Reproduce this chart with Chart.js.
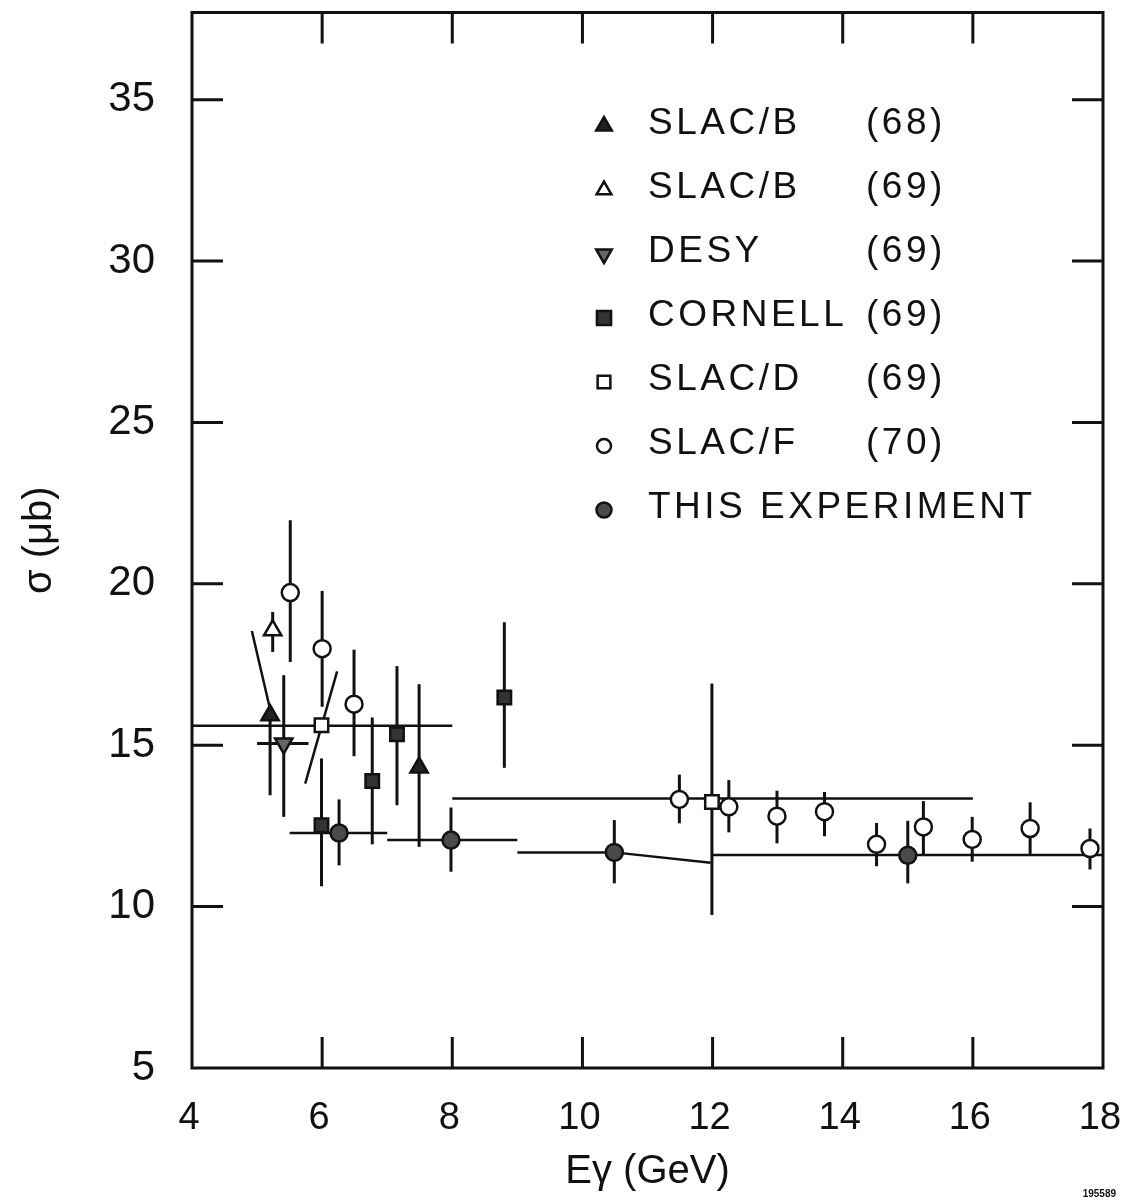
<!DOCTYPE html>
<html>
<head>
<meta charset="utf-8">
<script src="https://cdn.jsdelivr.net/npm/chart.js@4.4.1/dist/chart.umd.min.js"></script>
<style>
  html, body { margin: 0; padding: 0; background: #fff; }
  canvas { display: block; }
</style>
</head>
<body>
<canvas id="sigmaChart" width="1122" height="1204"></canvas>
<script>
// values (E in GeV, sigma in microbarn)
const slacB68X = [5.2, 7.49];
const slacB68Y = [15.93, 14.31];
const slacB68Lo = [13.45, 11.85];
const slacB68Hi = [15.93, 16.89];

const slacB69X = [5.24];
const slacB69Y = [18.56];
const slacB69Lo = [17.89];
const slacB69Hi = [19.13];

const desyX = [5.41];
const desyY = [15.05];
const desyLo = [12.78];
const desyHi = [17.17];
const desyXLo = [5.0];
const desyXHi = [5.79];

const cornellX = [5.99, 6.77, 7.15, 8.8];
const cornellY = [12.52, 13.89, 15.34, 16.48];
const cornellLo = [10.63, 11.93, 13.14, 14.3];
const cornellHi = [14.59, 15.86, 17.45, 18.81];

const slacDX = [5.99, 11.99];
const slacDY = [15.62, 13.24];
const slacDLo = [15.62, 9.74];
const slacDHi = [15.62, 16.91];

const slacFX = [5.51, 6.0, 6.49, 11.49, 12.25, 12.99, 13.72, 14.52, 15.24, 15.99, 16.88, 17.8];
const slacFY = [19.73, 17.99, 16.27, 13.32, 13.09, 12.8, 12.94, 11.93, 12.47, 12.08, 12.42, 11.8];
const slacFLo = [17.58, 16.19, 14.66, 12.58, 12.3, 11.96, 12.18, 11.25, 11.59, 11.39, 11.59, 11.15];
const slacFHi = [21.97, 19.78, 17.96, 14.09, 13.92, 13.59, 13.55, 12.59, 13.27, 12.78, 13.23, 12.42];

const thisX = [6.26, 7.98, 10.49, 15.0];
const thisY = [12.28, 12.06, 11.68, 11.59];
const thisLo = [11.28, 11.08, 10.72, 10.72];
const thisHi = [13.32, 13.07, 12.68, 12.66];

// bin lines (null = break)
const slacDBinX = [4, 8, null, 8, 16];
const slacDBinY = [15.6, 15.6, null, 13.35, 13.35];
const thisBinX = [5.5, 7.0, null, 7.0, 9.0, null, 9.0, 10.49, 11.97, null, 12.0, 18.0];
const thisBinY = [12.28, 12.28, null, 12.06, 12.06, null, 11.68, 11.68, 11.36, null, 11.6, 11.6];
const slopeX = [4.92, 5.21, null, 5.74, 6.23];
const slopeY = [18.54, 16.03, null, 13.81, 17.29];

const legendNames = ['SLAC/B', 'SLAC/B', 'DESY', 'CORNELL', 'SLAC/D', 'SLAC/F', 'THIS EXPERIMENT'];
const legendYears = ['(68)', '(69)', '(69)', '(69)', '(69)', '(70)', ''];

const xTitle = 'Eγ (GeV)';
const yTitle = 'σ (μb)';
const ink = '#111';
const fontFamily = "'Liberation Sans', Arial, sans-serif";

const toPoints = (xs, ys) => xs.map((x, i) => ({ x: x, y: ys[i] }));

const markerSet = (label, xs, ys, lo, hi, style, extra) => Object.assign({
    label: label,
    data: toPoints(xs, ys),
    errLo: lo,
    errHi: hi,
    pointStyle: style,
    pointRadius: 9,
    pointBorderWidth: 2.5,
    borderColor: ink,
    backgroundColor: ink,
    showLine: false,
    order: 1
}, extra || {});

const lineSet = (xs, ys) => ({
    data: toPoints(xs, ys),
    showLine: true,
    spanGaps: false,
    borderColor: ink,
    borderWidth: 2.5,
    pointRadius: 0,
    order: 2
});

const datasets = [
    markerSet('SLAC/B (68)', slacB68X, slacB68Y, slacB68Lo, slacB68Hi, 'triangle', { pointRadius: 10, backgroundColor: '#222' }),
    markerSet('SLAC/B (69)', slacB69X, slacB69Y, slacB69Lo, slacB69Hi, 'triangle', { pointRadius: 10, backgroundColor: '#fff' }),
    markerSet('DESY (69)', desyX, desyY, desyLo, desyHi, 'triangle', { pointRadius: 10, rotation: 180, backgroundColor: '#666', errXLo: desyXLo, errXHi: desyXHi }),
    markerSet('CORNELL (69)', cornellX, cornellY, cornellLo, cornellHi, 'rect', { pointRadius: 9.5, backgroundColor: '#333' }),
    markerSet('SLAC/D (69)', slacDX, slacDY, slacDLo, slacDHi, 'rect', { pointRadius: 9.5, backgroundColor: '#fff' }),
    markerSet('SLAC/F (70)', slacFX, slacFY, slacFLo, slacFHi, 'circle', { pointRadius: 8.5, backgroundColor: '#fff' }),
    markerSet('THIS EXPERIMENT', thisX, thisY, thisLo, thisHi, 'circle', { pointRadius: 8.5, backgroundColor: '#4a4a4a' }),
    lineSet(slacDBinX, slacDBinY),
    lineSet(thisBinX, thisBinY),
    lineSet(slopeX, slopeY)
];

// vertical / horizontal error bars, drawn under the markers
const errorBars = {
    id: 'errorBars',
    beforeDatasetsDraw(chart) {
        const { ctx, scales: { x, y } } = chart;
        ctx.save();
        ctx.strokeStyle = ink;
        ctx.lineWidth = 3;
        ctx.lineCap = 'butt';
        chart.data.datasets.forEach(ds => {
            if (!ds.errLo) return;
            ds.data.forEach((p, i) => {
                const px = x.getPixelForValue(p.x);
                ctx.beginPath();
                ctx.moveTo(px, y.getPixelForValue(ds.errLo[i]));
                ctx.lineTo(px, y.getPixelForValue(ds.errHi[i]));
                ctx.stroke();
                if (ds.errXLo) {
                    const py = y.getPixelForValue(p.y);
                    ctx.beginPath();
                    ctx.moveTo(x.getPixelForValue(ds.errXLo[i]), py);
                    ctx.lineTo(x.getPixelForValue(ds.errXHi[i]), py);
                    ctx.stroke();
                }
            });
        });
        ctx.restore();
    }
};

// closed frame with inward ticks on all four sides
const frame = {
    id: 'frame',
    afterDraw(chart) {
        const { ctx, chartArea: a, scales: { x, y } } = chart;
        const len = 31;
        ctx.save();
        ctx.strokeStyle = ink;
        ctx.lineWidth = 3;
        ctx.strokeRect(a.left, a.top, a.right - a.left, a.bottom - a.top);
        ctx.beginPath();
        x.ticks.forEach(t => {
            if (t.value <= x.min || t.value >= x.max) return;
            const px = x.getPixelForValue(t.value);
            ctx.moveTo(px, a.bottom); ctx.lineTo(px, a.bottom - len);
            ctx.moveTo(px, a.top); ctx.lineTo(px, a.top + len);
        });
        y.ticks.forEach(t => {
            if (t.value <= y.min || t.value >= y.max) return;
            const py = y.getPixelForValue(t.value);
            ctx.moveTo(a.left, py); ctx.lineTo(a.left + len, py);
            ctx.moveTo(a.right, py); ctx.lineTo(a.right - len, py);
        });
        ctx.stroke();
        ctx.fillStyle = ink;
        ctx.font = "bold 10px " + fontFamily;
        ctx.textAlign = 'right';
        ctx.fillText('195589', 1116, 1197);
        ctx.restore();
    }
};

// two-column legend in the upper right
const keyBox = {
    id: 'keyBox',
    afterDraw(chart) {
        const { ctx } = chart;
        const sizes = [9, 8.5, 9, 10, 9, 7, 7.5];
        ctx.save();
        ctx.font = "37px " + fontFamily;
        ctx.fillStyle = ink;
        ctx.textBaseline = 'middle';
        ctx.letterSpacing = '3.5px';
        legendNames.forEach((name, i) => {
            const ds = chart.data.datasets[i];
            const cy = 124 + i * 64;
            ctx.save();
            ctx.strokeStyle = ink;
            ctx.fillStyle = ds.backgroundColor;
            ctx.lineWidth = 2.5;
            Chart.helpers.drawPoint(ctx, {
                pointStyle: ds.pointStyle,
                rotation: ds.rotation || 0,
                radius: sizes[i],
                borderWidth: 2.5
            }, 604, cy + 2);
            ctx.restore();
            ctx.fillText(name, 648, cy);
            if (legendYears[i]) ctx.fillText(legendYears[i], 866, cy);
        });
        ctx.restore();
    }
};

const tickFont = size => ({ family: fontFamily, size: size });

// keep the frame where the page puts it: no label overhang padding
const fixPadding = s => {
    s.paddingTop = 0;
    s.paddingBottom = 0;
    s.paddingLeft = 0;
    s.paddingRight = 0;
};

new Chart(document.getElementById('sigmaChart').getContext('2d'), {
    type: 'scatter',
    data: { datasets: datasets },
    options: {
        responsive: false,
        animation: false,
        layout: { padding: { top: 11, right: 19, bottom: 0, left: 0 } },
        plugins: {
            legend: { display: false },
            tooltip: { enabled: false }
        },
        scales: {
            x: {
                type: 'linear',
                min: 4,
                max: 18,
                ticks: { stepSize: 2, color: ink, font: tickFont(38), padding: 28, labelOffset: -3 },
                grid: { display: false, drawTicks: false },
                border: { display: false },
                title: { display: true, text: xTitle, color: ink, font: tickFont(40), padding: { top: 0, bottom: 8 } },
                afterFit: s => { s.height = 136; fixPadding(s); }
            },
            y: {
                type: 'linear',
                min: 5,
                max: 37.7,
                ticks: { stepSize: 5, includeBounds: false, color: ink, font: tickFont(42), padding: 37 },
                grid: { display: false, drawTicks: false },
                border: { display: false },
                title: { display: true, text: yTitle, color: ink, font: tickFont(40), padding: { top: 16, bottom: 0 } },
                afterFit: s => { s.width = 192; fixPadding(s); }
            }
        }
    },
    plugins: [errorBars, frame, keyBox]
});
</script>
</body>
</html>
